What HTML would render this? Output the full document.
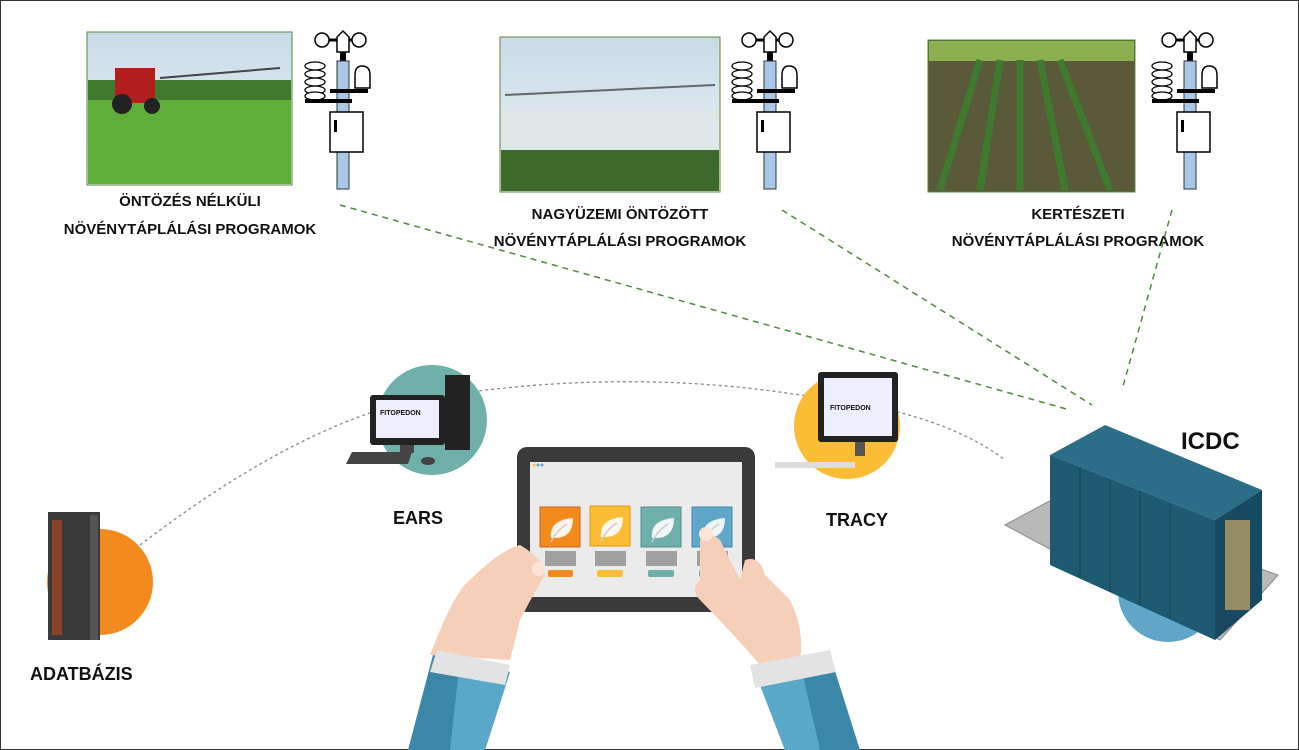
<!DOCTYPE html>
<html><head><meta charset="utf-8"><style>
html,body{margin:0;padding:0;background:#fff}
svg{display:block}
text{font-family:"Liberation Sans",sans-serif;font-weight:bold;fill:#111}
</style></head><body>
<svg width="1299" height="750" viewBox="0 0 1299 750" xmlns="http://www.w3.org/2000/svg">
<rect x="0.5" y="0.5" width="1298" height="749" fill="#fff" stroke="#333" stroke-width="1"/>
<defs>
<linearGradient id="sky" x1="0" y1="0" x2="0" y2="1"><stop offset="0" stop-color="#c9dbe8"/><stop offset="1" stop-color="#eef2f2"/></linearGradient>
<g id="ws">
  <line x1="322" y1="40" x2="358" y2="40" stroke="#000" stroke-width="3"/>
  <circle cx="322" cy="40" r="7" fill="#fff" stroke="#000" stroke-width="1.5"/>
  <circle cx="359" cy="40" r="7" fill="#fff" stroke="#000" stroke-width="1.5"/>
  <path d="M343 31 L349 37 L349 52 L337 52 L337 37 Z" fill="#fff" stroke="#000" stroke-width="1.5"/>
  <rect x="340" y="52" width="6" height="9" fill="#000"/>
  <rect x="337" y="61" width="12" height="128" fill="#a9c8e8" stroke="#333" stroke-width="1"/>
  <g fill="#fff" stroke="#000" stroke-width="1.3">
   <ellipse cx="315" cy="66" rx="10" ry="4"/><ellipse cx="315" cy="74" rx="10" ry="4"/><ellipse cx="315" cy="82" rx="10" ry="4"/><ellipse cx="315" cy="90" rx="10" ry="4"/><ellipse cx="315" cy="96" rx="10" ry="4"/>
  </g>
  <path d="M355 88 L355 75 Q355 66 362 66 Q370 66 370 75 L370 88 Z" fill="#fff" stroke="#000" stroke-width="1.5"/>
  <rect x="330" y="89" width="38" height="4" fill="#000"/>
  <rect x="305" y="99" width="47" height="4" fill="#000"/>
  <rect x="330" y="112" width="33" height="40" fill="#fff" stroke="#000" stroke-width="1.5"/>
  <rect x="334" y="120" width="3" height="12" fill="#000"/>
</g>
<g id="leaf"><path d="M8 28 Q6 10 30 8 Q30 28 12 28 Z" fill="#fff" opacity="0.9"/><path d="M8 32 Q14 20 24 14" stroke="#ccc" stroke-width="1.5" fill="none"/></g>
</defs>

<rect x="87" y="32" width="205" height="153" fill="url(#sky)" stroke="#5a8a3a"/>
<rect x="88" y="95" width="203" height="89" fill="#5fae3a"/>
<rect x="88" y="80" width="203" height="20" fill="#3f7a2e"/>
<rect x="115" y="68" width="40" height="35" fill="#b21d1d"/>
<circle cx="122" cy="104" r="10" fill="#222"/><circle cx="152" cy="106" r="8" fill="#222"/>
<line x1="160" y1="78" x2="280" y2="68" stroke="#444" stroke-width="2"/>

<rect x="500" y="37" width="220" height="155" fill="url(#sky)" stroke="#5a8a3a"/>
<rect x="501" y="150" width="218" height="41" fill="#3d6a2a"/>
<path d="M505 95 L715 85" stroke="#666" stroke-width="2"/>
<rect x="501" y="110" width="218" height="40" fill="#dfe6e6" opacity="0.8"/>

<rect x="928" y="40" width="207" height="152" fill="#5a5a3a" stroke="#5a8a3a"/>
<rect x="929" y="41" width="205" height="20" fill="#8ab050"/>
<g stroke="#3f7a2e" stroke-width="7">
<line x1="940" y1="190" x2="980" y2="60"/><line x1="980" y1="190" x2="1000" y2="60"/><line x1="1020" y1="190" x2="1020" y2="60"/><line x1="1065" y1="190" x2="1040" y2="60"/><line x1="1110" y1="190" x2="1060" y2="60"/>
</g>

<use href="#ws"/>
<use href="#ws" transform="translate(427,0)"/>
<use href="#ws" transform="translate(847,0)"/>

<g font-size="15" text-anchor="middle">
<text x="190" y="206">ÖNTÖZÉS NÉLKÜLI</text>
<text x="190" y="234">NÖVÉNYTÁPLÁLÁSI PROGRAMOK</text>
<text x="620" y="219">NAGYÜZEMI ÖNTÖZÖTT</text>
<text x="620" y="246">NÖVÉNYTÁPLÁLÁSI PROGRAMOK</text>
<text x="1078" y="219">KERTÉSZETI</text>
<text x="1078" y="246">NÖVÉNYTÁPLÁLÁSI PROGRAMOK</text>
</g>

<g stroke="#4d8a3a" stroke-width="1.5" stroke-dasharray="6,5" fill="none">
<line x1="340" y1="205" x2="1070" y2="410"/>
<line x1="782" y1="210" x2="1092" y2="405"/>
<line x1="1172" y1="210" x2="1122" y2="390"/>
</g>
<path d="M140 545 Q330 400 470 392 Q640 370 800 395 Q940 410 1005 460" stroke="#888" stroke-width="1.3" stroke-dasharray="3,3" fill="none"/>

<circle cx="100" cy="582" r="53" fill="#f28a1e"/>
<rect x="48" y="512" width="52" height="128" fill="#3a3a3a"/>
<rect x="52" y="520" width="10" height="115" fill="#c24a1a" opacity="0.6"/>
<rect x="90" y="515" width="8" height="125" fill="#555"/>
<circle cx="432" cy="420" r="55" fill="#6fb0aa"/>
<rect x="370" y="395" width="75" height="50" rx="3" fill="#222"/><rect x="376" y="400" width="63" height="38" fill="#eef"/>
<text x="380" y="415" font-size="7" fill="#c33">FITOPEDON</text>
<rect x="445" y="375" width="25" height="75" fill="#222"/>
<rect x="400" y="445" width="14" height="8" fill="#444"/>
<polygon points="352,452 412,452 408,464 346,464" fill="#444"/>
<ellipse cx="428" cy="461" rx="7" ry="4" fill="#444"/>
<circle cx="847" cy="426" r="53" fill="#fbbd36"/>
<rect x="818" y="372" width="80" height="70" rx="3" fill="#222"/><rect x="824" y="378" width="68" height="58" fill="#eef"/>
<text x="830" y="410" font-size="7" fill="#c33">FITOPEDON</text>
<rect x="855" y="442" width="10" height="14" fill="#555"/>
<rect x="775" y="462" width="80" height="6" fill="#ddd"/>
<circle cx="1168" cy="592" r="50" fill="#5fa6c9"/>

<g font-size="18">
<text x="393" y="524">EARS</text>
<text x="826" y="526">TRACY</text>
<text x="30" y="680">ADATBÁZIS</text>
<text x="1181" y="449" font-size="24">ICDC</text>
</g>

<polygon points="1005,525 1055,498 1278,575 1220,640" fill="#b9b9b9" stroke="#888"/>
<polygon points="1050,455 1105,425 1262,490 1215,520" fill="#2c6d88"/>
<polygon points="1050,455 1215,520 1215,640 1050,565" fill="#1f5a73"/>
<polygon points="1215,520 1262,490 1262,600 1215,640" fill="#174a60"/>
<g stroke="#164a5f" stroke-width="1.5">
<line x1="1080" y1="467" x2="1080" y2="578"/><line x1="1110" y1="479" x2="1110" y2="592"/><line x1="1140" y1="491" x2="1140" y2="605"/><line x1="1170" y1="503" x2="1170" y2="619"/>
</g>
<rect x="1225" y="520" width="25" height="90" fill="#c9a866" opacity="0.7"/>

<rect x="517" y="447" width="238" height="165" rx="10" fill="#3a3a3a"/>
<rect x="530" y="462" width="212" height="135" fill="#ebebeb"/>
<circle cx="534" cy="465" r="1.5" fill="#fbbd36"/><circle cx="538" cy="465" r="1.5" fill="#5fa6c9"/><circle cx="542" cy="465" r="1.5" fill="#5fa6c9"/>
<g>
<rect x="540" y="507" width="40" height="40" fill="#f28a1e" stroke="#c96a10"/>
<rect x="590" y="506" width="40" height="40" fill="#fbbd36" stroke="#e09a10"/>
<rect x="641" y="507" width="40" height="40" fill="#6fb0aa" stroke="#4f908a"/>
<rect x="692" y="507" width="40" height="40" fill="#5fa6c9" stroke="#3f86a9"/>
<use href="#leaf" transform="translate(543,510)"/><use href="#leaf" transform="translate(593,509)"/><use href="#leaf" transform="translate(644,510)"/><use href="#leaf" transform="translate(695,510)"/>
</g>
<g fill="#a0a0a0">
<rect x="545" y="551" width="31" height="15"/><rect x="595" y="551" width="31" height="15"/><rect x="646" y="551" width="31" height="15"/><rect x="697" y="551" width="31" height="15"/>
</g>
<rect x="548" y="570" width="25" height="7" rx="2" fill="#f28a1e"/><rect x="597" y="570" width="26" height="7" rx="2" fill="#fbbd36"/>
<rect x="648" y="570" width="26" height="7" rx="2" fill="#6fb0aa"/><rect x="699" y="570" width="26" height="7" rx="2" fill="#5fa6c9"/>

<path d="M430 655 Q455 590 470 580 Q500 550 520 545 Q545 560 545 575 Q530 600 520 620 L510 660 Z" fill="#f6cfb9"/>
<circle cx="539" cy="569" r="7" fill="#fbe3d6"/>
<polygon points="433,655 510,672 485,750 408,750" fill="#3a87a8"/>
<polygon points="460,660 510,672 485,750 450,750" fill="#5aa8c9"/>
<polygon points="437,650 510,665 505,685 430,672" fill="#e3e3e3"/>
<path d="M700 540 Q710 530 720 540 L740 580 L745 560 Q760 555 765 575 L790 600 Q805 630 800 660 L760 665 Q730 630 700 600 Q690 590 700 580 Z" fill="#f6cfb9"/>
<circle cx="706" cy="534" r="7" fill="#fbe3d6"/>
<polygon points="755,672 830,655 860,750 785,750" fill="#3a87a8"/>
<polygon points="755,672 800,662 820,750 785,750" fill="#5aa8c9"/>
<polygon points="750,665 830,650 836,672 755,688" fill="#e3e3e3"/>
</svg>
</body></html>
